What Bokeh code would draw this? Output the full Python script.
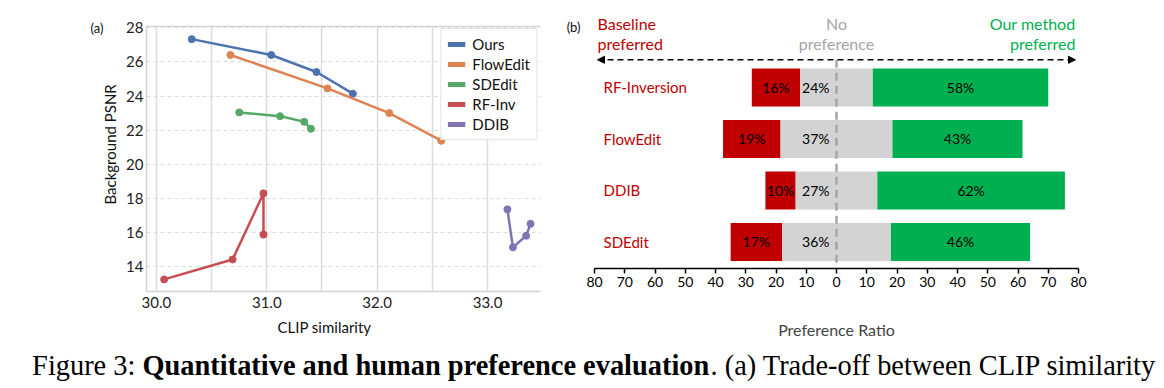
import math
from bokeh.plotting import figure
from bokeh.layouts import column, row
from bokeh.models import (Range1d, FixedTicker, LinearAxis, Legend, LegendItem, Title, Span,
                          Arrow, NormalHead, ColumnDataSource, Label)
from bokeh.core.properties import value
from bokeh.embed import file_html
from bokeh.resources import INLINE

# ---------------- data: (a) trade-off ----------------
ours_clip = [30.32, 31.04, 31.45, 31.78]
ours_psnr = [27.34, 26.41, 25.41, 24.14]
flow_clip = [30.67, 31.55, 32.11, 32.58]
flow_psnr = [26.41, 24.45, 23.00, 21.38]
sde_clip = [30.75, 31.12, 31.34, 31.40]
sde_psnr = [23.04, 22.82, 22.49, 22.08]
rf_clip = [30.07, 30.69, 30.97, 30.97]
rf_psnr = [13.24, 14.41, 18.29, 15.87]
ddib_clip = [33.18, 33.23, 33.35, 33.39]
ddib_psnr = [17.35, 15.12, 15.80, 16.50]
series_names = ["Ours", "FlowEdit", "SDEdit", "RF-Inv", "DDIB"]
x_ticks_a = [30.0, 31.0, 32.0, 33.0]
y_ticks_a = [14, 16, 18, 20, 22, 24, 26, 28]

# ---------------- data: (b) preference ----------------
methods = ["RF-Inversion", "FlowEdit", "DDIB", "SDEdit"]
baseline_pref = [16, 19, 10, 17]
no_pref = [24, 37, 27, 36]
ours_pref = [58, 43, 62, 46]
x_ticks_b = [-80, -70, -60, -50, -40, -30, -20, -10, 0, 10, 20, 30, 40, 50, 60, 70, 80]

FONT = "Lato"
colors_a = ["#4c72b0", "#dd8452", "#55a868", "#c44e52", "#8172b3"]
SPINE = "#d4d4d4"

# ================= (a) =================
pa = figure(width=560, height=348, output_backend="svg", toolbar_location=None,
            x_range=Range1d(29.91, 33.48), y_range=Range1d(12.53, 28.14),
            min_border_left=146, min_border_right=20, min_border_top=25, min_border_bottom=57)
pa.outline_line_color = None

pa.xaxis.ticker = FixedTicker(ticks=x_ticks_a)
pa.xaxis.major_label_overrides = {t: f"{t:.1f}" for t in x_ticks_a}
pa.yaxis.ticker = FixedTicker(ticks=y_ticks_a)
for ax in (pa.xaxis[0], pa.yaxis[0]):
    ax.axis_line_color = SPINE
    ax.axis_line_width = 1.5
    ax.major_tick_line_color = None
    ax.minor_tick_line_color = None
    ax.major_tick_out = 0
    ax.major_tick_in = 0
    ax.major_label_text_font = FONT
    ax.major_label_text_font_size = "15px"
    ax.major_label_text_color = "#222222"
pa.xaxis.major_label_standoff = 5
pa.yaxis.major_label_standoff = 3

pa.xgrid.ticker = FixedTicker(ticks=[30.0, 30.5, 31.0, 31.5, 32.0, 32.5, 33.0])
pa.xgrid.grid_line_color = "#dcdcdc"
pa.xgrid.grid_line_width = 1.5
pa.ygrid.ticker = FixedTicker(ticks=y_ticks_a)
pa.ygrid.grid_line_color = "#dcdcdc"
pa.ygrid.grid_line_dash = "4 3"
pa.ygrid.grid_line_width = 1
pa.add_layout(Span(location=28.1, dimension="width", line_color=SPINE, line_width=1.5))

all_x = [ours_clip, flow_clip, sde_clip, rf_clip, ddib_clip]
all_y = [ours_psnr, flow_psnr, sde_psnr, rf_psnr, ddib_psnr]
legend_items = []
for name, xs, ys, c in zip(series_names, all_x, all_y, colors_a):
    pa.line(xs, ys, line_color=c, line_width=2.5)
    pa.scatter(xs, ys, size=7, fill_color=c, line_color=c)
    # one-point line: draws nothing on the plot, gives a thick legend swatch
    swatch = pa.line(x=xs[:1], y=ys[:1], line_color=c, line_width=5)
    legend_items.append(LegendItem(label=name, renderers=[swatch]))

leg = Legend(items=legend_items, location="top_right")
leg.label_text_font = FONT
leg.label_text_font_size = "15px"
leg.label_text_color = "#111111"
leg.glyph_width = 18
leg.glyph_height = 18
leg.label_height = 18
leg.spacing = 2
leg.padding = 6
leg.margin = 3
leg.label_standoff = 7
leg.border_line_color = "#cccccc"
leg.border_line_width = 1
pa.add_layout(leg)

pa.add_layout(Title(text="Background PSNR", align="left", offset=87, text_font=FONT,
                    text_font_size="15px", text_font_style="normal", text_color="#111111"), "left")
a_axis = LinearAxis(ticker=FixedTicker(ticks=[28.02]), major_label_overrides={28.02: "(a)"},
                    axis_line_color=None, major_tick_line_color=None, minor_tick_line_color=None,
                    major_tick_out=0, major_tick_in=0, major_label_standoff=-10,
                    major_label_text_font=FONT, major_label_text_font_size="13px",
                    major_label_text_color="#111111")
pa.add_layout(a_axis, "left")
pa.add_layout(Title(text="CLIP similarity", align="left", offset=131, text_font=FONT,
                    text_font_size="15px", text_font_style="normal", text_color="#111111"), "below")

# ================= (b) =================
pb = figure(width=604, height=348, output_backend="svg", toolbar_location=None,
            x_range=Range1d(-80, 80), y_range=Range1d(3.515, -1.495),
            min_border_left=34, min_border_right=86, min_border_top=10, min_border_bottom=80)
pb.outline_line_color = None
pb.xgrid.visible = False
pb.ygrid.visible = False
pb.xaxis.ticker = FixedTicker(ticks=x_ticks_b)
pb.xaxis.major_label_overrides = {t: str(abs(t)) for t in x_ticks_b}
pb.xaxis.axis_line_color = "black"
pb.xaxis.axis_line_width = 1.5
pb.xaxis.major_tick_line_color = "black"
pb.xaxis.major_tick_line_width = 1.5
pb.xaxis.major_tick_out = 5
pb.xaxis.major_tick_in = 0
pb.xaxis.minor_tick_line_color = None
pb.xaxis.major_label_text_font = FONT
pb.xaxis.major_label_text_font_size = "14px"
pb.xaxis.major_label_text_color = "black"
pb.xaxis.major_label_standoff = 3
pb.xaxis.axis_label = "Preference Ratio"
pb.xaxis.axis_label_text_font = FONT
pb.xaxis.axis_label_text_font_size = "16px"
pb.xaxis.axis_label_text_font_style = "normal"
pb.xaxis.axis_label_standoff = 30

# left axis of (b) only carries the panel tag "(b)"
pb.yaxis.ticker = FixedTicker(ticks=[-1.165])
pb.yaxis.major_label_overrides = {-1.165: "(b)"}
pb.yaxis.axis_line_color = None
pb.yaxis.major_tick_line_color = None
pb.yaxis.minor_tick_line_color = None
pb.yaxis.major_tick_out = 0
pb.yaxis.major_tick_in = 0
pb.yaxis.major_label_standoff = 14
pb.yaxis.major_label_text_font = FONT
pb.yaxis.major_label_text_font_size = "13px"
pb.yaxis.major_label_text_color = "#111111"

ypos = list(range(len(methods)))
half = [n / 2 for n in no_pref]
src = ColumnDataSource(dict(
    y=ypos, method=methods,
    red_l=[-(h + b) for h, b in zip(half, baseline_pref)], red_r=[-h for h in half],
    gray_l=[-h for h in half], gray_r=half,
    green_l=half, green_r=[h + o for h, o in zip(half, ours_pref)],
    red_c=[-(h + b / 2) for h, b in zip(half, baseline_pref)],
    green_c=[h + o / 2 for h, o in zip(half, ours_pref)],
    zero=[0] * len(methods), lab_x=[-77] * len(methods),
    red_t=[f"{v}%" for v in baseline_pref], gray_t=[f"{v}%" for v in no_pref],
    green_t=[f"{v}%" for v in ours_pref],
))
bh = 0.74
pb.hbar(y="y", left="red_l", right="red_r", height=bh, fill_color="#c00000", line_color=None, source=src)
pb.hbar(y="y", left="gray_l", right="gray_r", height=bh, fill_color="#d3d3d3", line_color=None, source=src)
pb.hbar(y="y", left="green_l", right="green_r", height=bh, fill_color="#00b050", line_color=None, source=src)

pb.segment(x0=[0], y0=[-0.538], x1=[0], y1=[3.515], line_color="#a6a6a6", line_width=2.5,
           line_dash="8 5")

pb.text(x="red_c", y="y", text="red_t", source=src, text_font=value(FONT), text_font_size="14px",
        text_align="center", text_baseline="middle", text_color="black")
pb.text(x="zero", y="y", text="gray_t", source=src, text_font=value(FONT), text_font_size="14px",
        text_align="right", text_baseline="middle", text_color="black", x_offset=-7)
pb.text(x="green_c", y="y", text="green_t", source=src, text_font=value(FONT), text_font_size="14px",
        text_align="center", text_baseline="middle", text_color="black")
pb.text(x="lab_x", y="y", text="method", source=src, text_font=value(FONT), text_font_size="15px",
        text_align="left", text_baseline="middle", text_color="#c00000")

hdr = dict(text_font=FONT, text_font_size="16px", text_baseline="middle")
pb.add_layout(Label(x=-79, y=-1.243, text="Baseline", text_align="left", text_color="#c00000", **hdr))
pb.add_layout(Label(x=-79, y=-0.854, text="preferred", text_align="left", text_color="#c00000", **hdr))
pb.add_layout(Label(x=0, y=-1.243, text="No", text_align="center", text_color="#a6a6a6", **hdr))
pb.add_layout(Label(x=0, y=-0.854, text="preference", text_align="center", text_color="#a6a6a6", **hdr))
pb.add_layout(Label(x=79, y=-1.243, text="Our method", text_align="right", text_color="#00b050", **hdr))
pb.add_layout(Label(x=79, y=-0.854, text="preferred", text_align="right", text_color="#00b050", **hdr))

pb.add_layout(Arrow(x_start=-79, y_start=-0.538, x_end=79, y_end=-0.538,
                    line_color="black", line_width=1.5, line_dash="6 4",
                    start=NormalHead(size=7, fill_color="black", line_color="black"),
                    end=NormalHead(size=7, fill_color="black", line_color="black")))

# ================= caption =================
pc = figure(width=1164, height=38, output_backend="svg", toolbar_location=None,
            x_range=Range1d(0, 1164), y_range=Range1d(0, 38),
            min_border_left=0, min_border_right=0, min_border_top=0, min_border_bottom=0)
pc.axis.visible = False
pc.grid.visible = False
pc.outline_line_color = None
cap = dict(text_font=value("Liberation Serif"), text_font_size="28.4px", text_baseline="middle",
           text_color="black", text_align="left")
pc.text(x=[31.6], y=[21], text=["Figure 3: "], **cap)
pc.text(x=[142], y=[21], text=["Quantitative and human preference evaluation"],
        text_font_style="bold", **cap)
pc.text(x=[710], y=[21], text=[". (a) Trade-off between CLIP similarity"], **cap)

layout = column(row(column(pa), column(pb)), pc)
open("out.html", "w").write(file_html(layout, INLINE))
